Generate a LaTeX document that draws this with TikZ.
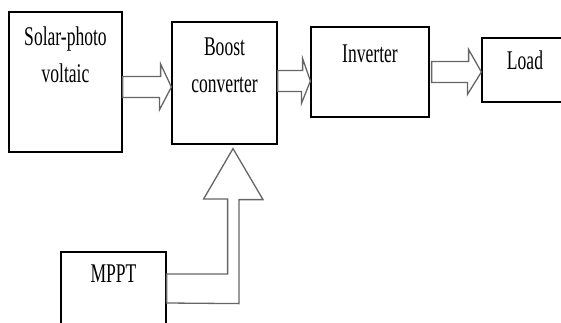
\documentclass[tikz,border=0pt]{standalone}
\usepackage{fontspec}
\setmainfont{Liberation Serif}
\usepackage{tikz}
\usetikzlibrary{calc, positioning}

\newcommand{\estreito}[1]{\scalebox{0.65}[1]{#1}}

\begin{document}
\begin{tikzpicture}[
		    x=1pt, y=-1pt,
		    every node/.style={rectangle, inner sep=0pt}
		]
		\tikzset{
		    caixa/.style={draw=black, line width=1.2pt},
		    rotulo/.style={font=\fontsize{27}{37}\selectfont, align=center, anchor=base},
		    seta/.style={draw=black!60, line width=1.3pt, fill=white, line join=miter}
		}
		\useasboundingbox (0,0) rectangle (561,323);
		\clip (0,0) rectangle (561,323);
		\node[caixa, minimum width=113pt, minimum height=140pt] (solar) at (65.5,82) {};
		\node[caixa, minimum width=105pt, minimum height=122pt] (boost) at (224.5,83) {};
		\node[caixa, minimum width=118pt, minimum height=90pt] (inversor) at (370,72) {};
		\node[caixa, minimum width=86pt, minimum height=64pt] (carga) at (525,70) {};
		\node[caixa, minimum width=105pt, minimum height=108pt] (mppt) at (113.5,306) {};
		\node[rotulo] (solar-txt) at ($(solar.north)+(0,71)$) {\estreito{Solar-photo}\\\estreito{voltaic}};
		\node[rotulo] (boost-txt) at ($(boost.north)+(0,71)$) {\estreito{Boost}\\\estreito{converter}};
		\node[rotulo] (inversor-txt) at ($(inversor.north)+(0,36)$) {\estreito{Inverter}};
		\node[rotulo] (carga-txt) at ($(carga.north)+(0,32)$) {\estreito{Load}};
		\node[rotulo] (mppt-txt) at ($(mppt.north)+(0,31)$) {\estreito{MPPT}};
		\draw[seta] ($(solar.east)+(0,-5.5)$) -- ++(38,0) -- ++(0,-12.5) -- ($(boost.west)+(0,4)$)
		    -- ++(-12,23) -- ++(0,-12.5) -- ($(solar.east)+(0,15.5)$) -- cycle;
		\draw[seta] ($(boost.east)+(0,-12.5)$) -- ++(25,0) -- ++(0,-12) -- ($(inversor.west)+(0,9)$)
		    -- ++(-9,22.5) -- ++(0,-12) -- ($(boost.east)+(0,8.5)$) -- cycle;
		\draw[seta] ($(inversor.east)+(2,-10.5)$) -- ++(37,0) -- ++(0,-12) -- ($(carga.west)+(0,2)$)
		    -- ++(-14,22.5) -- ++(0,-12) -- ($(inversor.east)+(2,10.5)$) -- cycle;
		\draw[seta] ($(mppt.east)+(0,-32)$) -- ++(61,0) -- ++(0,-75) -- ++(-24,0) -- ($(boost.south)+(8.5,4)$)
		    -- ++(30,51) -- ++(-24,0) -- ++(0,104) -- ($(mppt.east)+(0,-3)$) -- cycle;
		\end{tikzpicture}
\end{document}
